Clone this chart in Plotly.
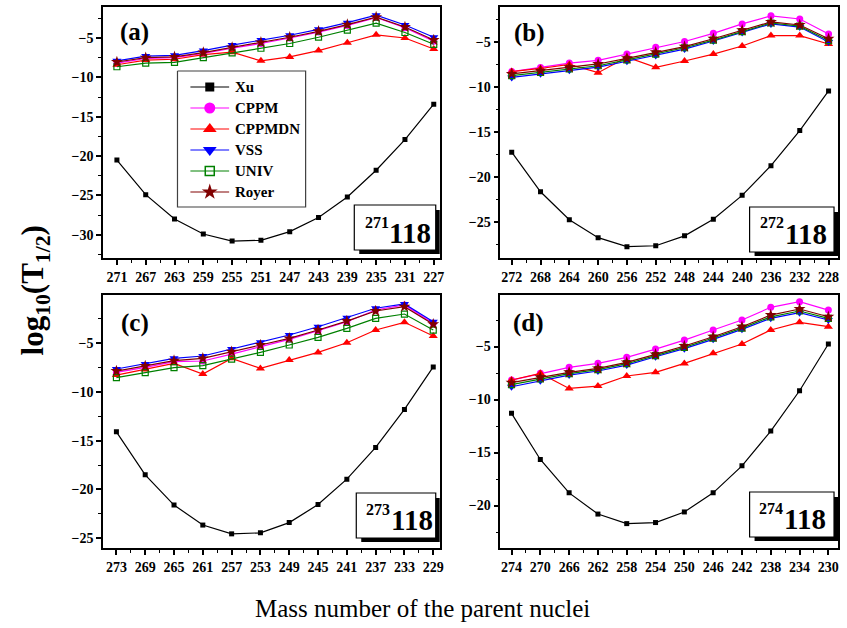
import plotly.graph_objects as go

# ---------------- data ----------------
mass_a = [271, 267, 263, 259, 255, 251, 247, 243, 239, 235, 231, 227]
xu_a     = [-20.5, -24.9, -28.0, -29.9, -30.8, -30.7, -29.6, -27.8, -25.2, -21.8, -17.9, -13.4]
cppm_a   = [-8.2, -7.6, -7.5, -6.95, -6.3, -5.7, -5.0, -4.25, -3.4, -2.4, -3.7, -5.4]
cppmdn_a = [-8.4, -7.8, -7.7, -7.1, -6.8, -7.9, -7.4, -6.6, -5.6, -4.6, -5.0, -6.4]
vss_a    = [-7.9, -7.3, -7.2, -6.6, -5.9, -5.25, -4.65, -3.9, -3.05, -2.1, -3.35, -4.9]
univ_a   = [-8.65, -8.2, -8.1, -7.5, -6.9, -6.3, -5.7, -4.9, -4.0, -3.1, -4.3, -5.8]
royer_a  = [-8.05, -7.5, -7.4, -6.85, -6.2, -5.55, -4.9, -4.15, -3.3, -2.35, -3.6, -5.25]

mass_b = [272, 268, 264, 260, 256, 252, 248, 244, 240, 236, 232, 228]
xu_b     = [-17.2, -21.6, -24.7, -26.7, -27.7, -27.6, -26.5, -24.65, -22.0, -18.7, -14.8, -10.4]
cppm_b   = [-8.25, -7.8, -7.3, -7.0, -6.3, -5.55, -4.9, -4.0, -2.95, -2.05, -2.4, -4.07]
cppmdn_b = [-8.25, -7.9, -7.45, -8.37, -6.65, -7.77, -7.07, -6.3, -5.4, -4.25, -4.25, -5.18]
vss_b    = [-8.9, -8.5, -8.1, -7.75, -7.1, -6.45, -5.75, -4.85, -3.9, -2.95, -3.3, -4.95]
univ_b   = [-8.7, -8.35, -7.95, -7.6, -6.95, -6.3, -5.6, -4.75, -3.8, -2.85, -3.2, -4.8]
royer_b  = [-8.5, -8.15, -7.77, -7.4, -6.77, -6.1, -5.47, -4.6, -3.66, -2.73, -3.07, -4.6]

mass_c = [273, 269, 265, 261, 257, 253, 249, 245, 241, 237, 233, 229]
xu_c     = [-14.1, -18.5, -21.6, -23.65, -24.55, -24.45, -23.4, -21.55, -18.95, -15.7, -11.8, -7.45]
cppm_c   = [-8.0, -7.5, -6.9, -6.84, -6.13, -5.38, -4.62, -3.74, -2.82, -1.62, -1.1, -2.98]
cppmdn_c = [-8.28, -7.7, -7.08, -8.18, -6.57, -7.6, -6.74, -5.96, -4.97, -3.67, -2.88, -4.28]
vss_c    = [-7.66, -7.15, -6.57, -6.33, -5.6, -4.93, -4.18, -3.33, -2.41, -1.44, -1.0, -2.82]
univ_c   = [-8.55, -8.04, -7.53, -7.32, -6.64, -5.96, -5.2, -4.42, -3.5, -2.47, -2.03, -3.67]
royer_c  = [-7.87, -7.36, -6.8, -6.57, -5.89, -5.2, -4.52, -3.67, -2.75, -1.72, -1.28, -3.08]

mass_d = [274, 270, 266, 262, 258, 254, 250, 246, 242, 238, 234, 230]
xu_d     = [-11.3, -15.65, -18.8, -20.8, -21.7, -21.6, -20.6, -18.8, -16.25, -12.97, -9.17, -4.76]
cppm_d   = [-8.16, -7.53, -6.96, -6.58, -6.02, -5.24, -4.39, -3.44, -2.5, -1.3, -0.77, -1.56]
cppmdn_d = [-8.16, -7.53, -8.95, -8.73, -7.78, -7.43, -6.59, -5.64, -4.76, -3.44, -2.72, -3.13]
vss_d    = [-8.79, -8.23, -7.69, -7.31, -6.75, -5.96, -5.2, -4.32, -3.38, -2.34, -1.81, -2.5]
univ_d   = [-8.6, -8.05, -7.55, -7.18, -6.62, -5.85, -5.08, -4.2, -3.26, -2.2, -1.65, -2.35]
royer_d  = [-8.41, -7.9, -7.43, -7.06, -6.49, -5.74, -4.95, -4.08, -3.13, -2.03, -1.46, -2.19]

series_names = ["Xu", "CPPM", "CPPMDN", "VSS", "UNIV", "Royer"]
panel_labels = ["(a)", "(b)", "(c)", "(d)"]
parent_mass = ["271", "272", "273", "274"]
element_z = "118"

panels = [
    (mass_a, [xu_a, cppm_a, cppmdn_a, vss_a, univ_a, royer_a]),
    (mass_b, [xu_b, cppm_b, cppmdn_b, vss_b, univ_b, royer_b]),
    (mass_c, [xu_c, cppm_c, cppmdn_c, vss_c, univ_c, royer_c]),
    (mass_d, [xu_d, cppm_d, cppmdn_d, vss_d, univ_d, royer_d]),
]

# ---------------- style ----------------
styles = {
    "Xu":     dict(color="#000000", light="#7f7f7f", symbol="square", size=5, lsize=9),
    "CPPM":   dict(color="#FF00FF", light="#ff80ff", symbol="circle", size=7, lsize=11),
    "CPPMDN": dict(color="#FF0000", light="#ff8080", symbol="triangle-up", size=8, lsize=12),
    "VSS":    dict(color="#0000FF", light="#8080ff", symbol="triangle-down", size=8, lsize=12),
    "UNIV":   dict(color="#008000", light="#80c080", symbol="square-open", size=6, lsize=9),
    "Royer":  dict(color="#800000", light="#c08080", symbol="star", size=9, lsize=12),
}

W, H = 847, 628
L, R, T, B = 103, 4, 7, 80
PW, PH = W - L - R, H - T - B
SERIF = "Liberation Serif"


def fx(px):
    return (px - L) / PW


def fy(py):
    return (H - B - py) / PH


# pixel boxes of the four panels: (left, right, top, bottom)
boxes = [(103, 442, 7, 258), (503, 843, 7, 258), (103, 442, 295, 548), (503, 843, 295, 548)]
yranges = [[-32.95, -1.06], [-28.96, -1.07], [-26.0, -0.08], [-24.0, -0.14]]
first_px = [117, 514.5, 116.5, 514.3]   # pixel of first category
step_px = 29.0                            # pixel per 4 mass units

fig = go.Figure()
layout_axes = {}
for i, (mass, vals) in enumerate(panels):
    sfx = "" if i == 0 else str(i + 1)
    for name, yv in zip(series_names, vals):
        st = styles[name]
        fig.add_trace(go.Scatter(
            x=mass, y=yv, name=name, mode="lines+markers",
            line=dict(color=st["color"], width=1.2),
            marker=dict(symbol=st["symbol"], size=st["size"], color=st["color"],
                        line=dict(width=1.2 if st["symbol"] == "square-open" else 0, color=st["color"])),
            showlegend=False, xaxis="x" + sfx, yaxis="y" + sfx))
    l, r, t, b = boxes[i]
    upp = 4.0 / step_px
    x_hi = mass[0] + (first_px[i] - l) * upp
    x_lo = mass[0] - (r - first_px[i]) * upp
    common = dict(showline=True, linewidth=1.5, linecolor="black", mirror=True,
                  ticks="outside", ticklen=5, tickwidth=1.5, tickcolor="black",
                  showgrid=False, zeroline=False,
                  tickfont=dict(family=SERIF, size=14, color="black", weight="bold"))
    layout_axes["xaxis" + sfx] = dict(
        common, domain=[fx(l), fx(r)], anchor="y" + sfx, range=[x_hi, x_lo],
        tickmode="array", tickvals=mass, ticktext=[str(m) for m in mass],
        minor=dict(tickmode="array", tickvals=[m - 2 for m in mass], ticks="outside",
                   ticklen=3, tickwidth=1.2, tickcolor="black"))
    layout_axes["yaxis" + sfx] = dict(
        common, domain=[fy(b), fy(t)], anchor="x" + sfx, range=yranges[i],
        tick0=0, dtick=5,
        minor=dict(dtick=2.5, ticks="outside", ticklen=3, tickwidth=1.2, tickcolor="black"))

# ---- legend drawn on an invisible pixel-coordinate overlay axis ----
layout_axes["xaxis5"] = dict(domain=[0, 1], range=[L, W - R], visible=False, anchor="y5", fixedrange=True)
layout_axes["yaxis5"] = dict(domain=[0, 1], range=[H - B, T], visible=False, anchor="x5", fixedrange=True)
annotations = []
lg_box = (178, 307, 71, 207)
fig.add_trace(go.Scatter(
    x=[lg_box[0], lg_box[1], lg_box[1], lg_box[0], lg_box[0]],
    y=[lg_box[2], lg_box[2], lg_box[3], lg_box[3], lg_box[2]],
    mode="lines", fill="toself", fillcolor="white", line=dict(color="#404040", width=1.2),
    hoverinfo="skip", showlegend=False, xaxis="x5", yaxis="y5"))
for k, name in enumerate(series_names):
    st = styles[name]
    yk = 87 + 21 * k
    fig.add_trace(go.Scatter(x=[191, 230], y=[yk, yk], mode="lines",
                             line=dict(color=st["light"], width=2),
                             hoverinfo="skip", showlegend=False, xaxis="x5", yaxis="y5"))
    fig.add_trace(go.Scatter(x=[210.5], y=[yk], mode="markers",
                             marker=dict(symbol=st["symbol"], size=st["lsize"], color=st["color"],
                                         line=dict(width=1.5 if st["symbol"] == "square-open" else 0,
                                                   color=st["color"])),
                             hoverinfo="skip", showlegend=False, xaxis="x5", yaxis="y5"))
    annotations.append(dict(text="<b>%s</b>" % name, x=fx(234), y=fy(yk),
                            xref="paper", yref="paper", showarrow=False,
                            font=dict(family=SERIF, size=15, color="black"),
                            xanchor="left", yanchor="middle"))

fig.update_layout(**layout_axes)

shapes = []
label_pos = [(135, 32), (532, 33), (135, 323), (531, 323)]
for i, lab in enumerate(panel_labels):
    annotations.append(dict(text="<b>%s</b>" % lab, x=fx(label_pos[i][0]), y=fy(label_pos[i][1]),
                            xref="paper", yref="paper", showarrow=False,
                            font=dict(family=SERIF, size=25, color="black"),
                            xanchor="center", yanchor="middle"))

# nucleus boxes: (box left, right, top, bottom), superscript centre, big text centre
nuc = [
    ((356, 438, 205, 250), (379, 222), (412, 233)),
    ((754, 839, 207, 252), (777, 223), (811, 234)),
    ((358, 438, 493, 538), (380, 509), (414, 520)),
    ((754, 839, 492, 537), (776, 508), (810, 519)),
]
for i, (bx, sp, bp) in enumerate(nuc):
    x0, x1, y0, y1 = bx
    shapes.append(dict(type="rect", xref="paper", yref="paper",
                       x0=fx(x0 + 5), x1=fx(x1 + 4), y0=fy(y1 + 4), y1=fy(y0 + 5),
                       fillcolor="black", line=dict(width=0)))
    shapes.append(dict(type="rect", xref="paper", yref="paper",
                       x0=fx(x0), x1=fx(x1), y0=fy(y1), y1=fy(y0),
                       fillcolor="white", line=dict(color="black", width=1.2)))
    annotations.append(dict(text="<b>%s</b>" % parent_mass[i], x=fx(sp[0]), y=fy(sp[1]),
                            xref="paper", yref="paper", showarrow=False,
                            font=dict(family=SERIF, size=16, color="black"),
                            xanchor="center", yanchor="middle"))
    annotations.append(dict(text="<b>%s</b>" % element_z, x=fx(bp[0]), y=fy(bp[1]),
                            xref="paper", yref="paper", showarrow=False,
                            font=dict(family=SERIF, size=29, color="black"),
                            xanchor="center", yanchor="middle"))

annotations.append(dict(text="Mass number of the parent nuclei", x=fx(425), y=fy(608),
                        xref="paper", yref="paper", showarrow=False,
                        font=dict(family=SERIF, size=25, color="black"),
                        xanchor="center", yanchor="middle"))
annotations.append(dict(text="<b>log<sub>10</sub>(T<sub>1/2</sub>)</b>", x=fx(35), y=fy(290),
                        xref="paper", yref="paper", showarrow=False, textangle=-90,
                        font=dict(family=SERIF, size=31, color="black"),
                        xanchor="center", yanchor="middle"))

fig.update_layout(
    width=W, height=H,
    margin=dict(l=L, r=R, t=T, b=B),
    paper_bgcolor="white", plot_bgcolor="rgba(0,0,0,0)",
    annotations=annotations, shapes=shapes,
    showlegend=False,
)

fig.write_html("out.html")
